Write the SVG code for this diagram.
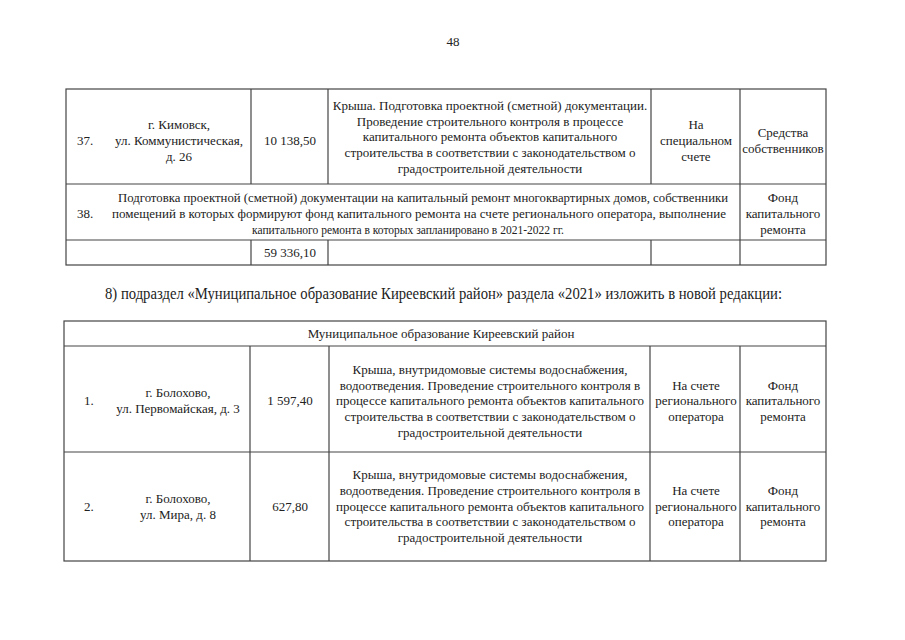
<svg xmlns="http://www.w3.org/2000/svg" width="905" height="640" viewBox="0 0 905 640">
<style>
text{font-family:"Liberation Serif","DejaVu Serif",serif;font-size:13px;fill:#222}
.c{text-anchor:middle}
.ln{stroke:#444;stroke-width:1.2;fill:none}
</style>
<rect width="905" height="640" fill="#fff"/>
<text class="c" x="453" y="46">48</text>
<g id="table1">
<g class="ln">
<rect x="66" y="89" width="760" height="176"/>
<line x1="66" y1="184" x2="826" y2="184"/>
<line x1="66" y1="240" x2="826" y2="240"/>
<line x1="251" y1="89" x2="251" y2="184"/>
<line x1="328" y1="89" x2="328" y2="184"/>
<line x1="651" y1="89" x2="651" y2="184"/>
<line x1="740" y1="89" x2="740" y2="265"/>
<line x1="251" y1="240" x2="251" y2="265"/>
<line x1="328" y1="240" x2="328" y2="265"/>
<line x1="651" y1="240" x2="651" y2="265"/>
</g>
<g id="row37">
<text x="77" y="145">37.</text>
<text class="c" x="179" y="129">г. Кимовск,</text>
<text class="c" x="179" y="145">ул. Коммунистическая,</text>
<text class="c" x="179" y="161">д. 26</text>
<text class="c" x="290" y="145">10 138,50</text>
<text class="c" x="490" y="110">Крыша. Подготовка проектной (сметной) документации.</text>
<text class="c" x="490" y="126">Проведение строительного контроля в процессе</text>
<text class="c" x="490" y="141">капитального ремонта объектов капитального</text>
<text class="c" x="490" y="157">строительства в соответствии с законодательством о</text>
<text class="c" x="490" y="173">градостроительной деятельности</text>
<text class="c" x="696" y="129">На</text>
<text class="c" x="696" y="145">специальном</text>
<text class="c" x="696" y="161">счете</text>
<text class="c" x="783" y="137">Средства</text>
<text class="c" x="783" y="153">собственников</text>
</g>
<g id="row38">
<text x="77" y="218">38.</text>
<text x="118" y="202" textLength="610" lengthAdjust="spacingAndGlyphs">Подготовка проектной (сметной) документации на капитальный ремонт многоквартирных домов, собственники</text>
<text x="112" y="218" textLength="614" lengthAdjust="spacingAndGlyphs">помещений в которых формируют фонд капитального ремонта на счете регионального оператора, выполнение</text>
<text x="252" y="234" textLength="312" lengthAdjust="spacingAndGlyphs">капитального ремонта в которых запланировано в 2021-2022 гг.</text>
<text class="c" x="783" y="202">Фонд</text>
<text class="c" x="783" y="218">капитального</text>
<text class="c" x="783" y="234">ремонта</text>
</g>
<g id="total">
<text class="c" x="290" y="257">59 336,10</text>
</g>
</g>
<text x="105" y="299" style="font-size:16px" textLength="677" lengthAdjust="spacingAndGlyphs">8) подраздел «Муниципальное образование Киреевский район» раздела «2021» изложить в новой редакции:</text>
<g id="table2">
<g class="ln">
<rect x="64" y="321" width="762" height="240"/>
<line x1="64" y1="346" x2="826" y2="346"/>
<line x1="64" y1="452" x2="826" y2="452"/>
<line x1="250" y1="346" x2="250" y2="561"/>
<line x1="329" y1="346" x2="329" y2="561"/>
<line x1="650" y1="346" x2="650" y2="561"/>
<line x1="740" y1="346" x2="740" y2="561"/>
</g>
<g id="header">
<text class="c" x="441" y="338">Муниципальное образование Киреевский район</text>
</g>
<g id="row1">
<text x="84" y="405">1.</text>
<text class="c" x="178" y="397">г. Болохово,</text>
<text class="c" x="178" y="413">ул. Первомайская, д. 3</text>
<text class="c" x="290" y="405">1 597,40</text>
<text class="c" x="490" y="374">Крыша, внутридомовые системы водоснабжения,</text>
<text class="c" x="490" y="390">водоотведения. Проведение строительного контроля в</text>
<text class="c" x="490" y="405">процессе капитального ремонта объектов капитального</text>
<text class="c" x="490" y="421">строительства в соответствии с законодательством о</text>
<text class="c" x="490" y="437">градостроительной деятельности</text>
<text class="c" x="696" y="390">На счете</text>
<text class="c" x="696" y="405">регионального</text>
<text class="c" x="696" y="421">оператора</text>
<text class="c" x="783" y="390">Фонд</text>
<text class="c" x="783" y="405">капитального</text>
<text class="c" x="783" y="421">ремонта</text>
</g>
<g id="row2">
<text x="84" y="511">2.</text>
<text class="c" x="178" y="503">г. Болохово,</text>
<text class="c" x="178" y="519">ул. Мира, д. 8</text>
<text class="c" x="290" y="511">627,80</text>
<text class="c" x="490" y="479">Крыша, внутридомовые системы водоснабжения,</text>
<text class="c" x="490" y="495">водоотведения. Проведение строительного контроля в</text>
<text class="c" x="490" y="511">процессе капитального ремонта объектов капитального</text>
<text class="c" x="490" y="526">строительства в соответствии с законодательством о</text>
<text class="c" x="490" y="542">градостроительной деятельности</text>
<text class="c" x="696" y="495">На счете</text>
<text class="c" x="696" y="511">регионального</text>
<text class="c" x="696" y="526">оператора</text>
<text class="c" x="783" y="495">Фонд</text>
<text class="c" x="783" y="511">капитального</text>
<text class="c" x="783" y="526">ремонта</text>
</g>
</g>
</svg>
